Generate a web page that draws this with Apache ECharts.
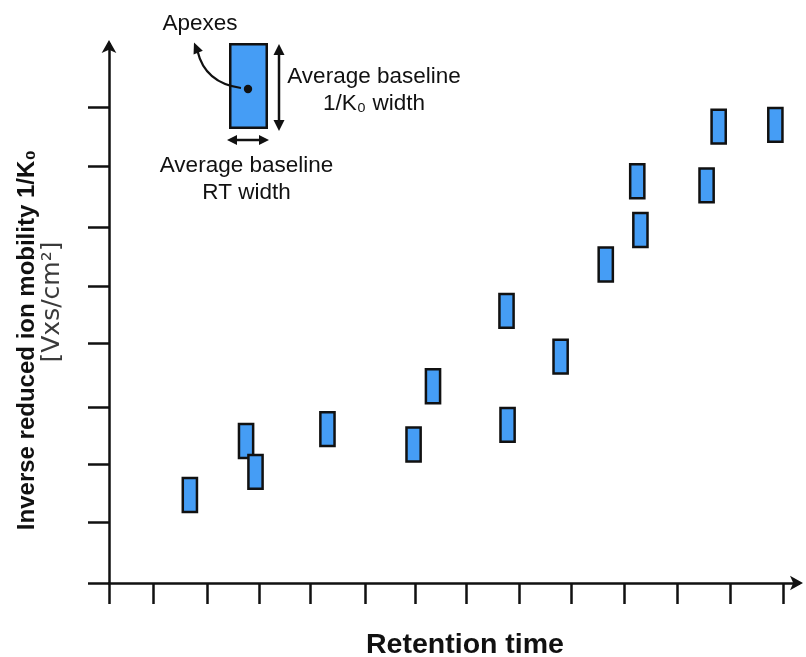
<!DOCTYPE html>
<html>
<head>
<meta charset="utf-8">
<script src="https://cdn.jsdelivr.net/npm/echarts@6/dist/echarts.min.js"></script>
<style>
  html, body { margin: 0; padding: 0; background: #fff; }
  #chart { width: 806px; height: 657px; }
</style>
</head>
<body>
<div id="chart"></div>
<script>
// Feature apex positions (retention time, inverse reduced ion mobility)
const rtValues = [1.70, 2.77, 2.95, 4.32, 5.96, 6.33, 7.73, 7.75, 8.76, 9.62, 10.28, 10.22, 11.54, 11.77, 12.85];
const imValues = [1.48, 2.39, 1.87, 2.59, 2.33, 3.31, 4.58, 2.66, 3.81, 5.36, 5.94, 6.76, 6.69, 7.68, 7.71];
// Average baseline widths (data units)
const rtWidth = 0.27;
const imWidth = 0.57;
// Tick positions (no labels)
const xTicks = [0.16, 1, 2.03, 3.02, 3.99, 5.04, 5.99, 6.96, 7.97, 8.96, 9.97, 10.99, 11.99, 13.0];
const yTicks = [0, 1.03, 2.0, 2.96, 4.04, 5.0, 5.98, 7.02, 8.0];

const FONT = '"Liberation Sans", Arial, Helvetica, sans-serif';
const INK = '#111';
const BLUE = '#459df5';

const data = rtValues.map((x, i) => [x, imValues[i]]);

const chart = echarts.init(document.getElementById('chart'));

function arrowHead(tip, dir, len, half) {
  const bx = tip[0] - dir[0] * len, by = tip[1] - dir[1] * len;
  const nx = -dir[1], ny = dir[0];
  return {
    type: 'polygon',
    shape: { points: [tip, [bx + nx * half, by + ny * half], [bx - nx * half, by - ny * half]] },
    style: { fill: INK }
  };
}

const axisCommon = {
  type: 'value',
  splitLine: { show: false },
  axisLabel: { show: false },
  axisLine: {
    show: true,
    symbol: ['none', 'arrow'],
    symbolSize: [11, 13],
    symbolOffset: [0, 4],
    lineStyle: { color: INK, width: 2.5 }
  },
  axisTick: {
    show: true,
    inside: false,
    length: 21,
    lineStyle: { color: INK, width: 2.5 }
  }
};

const option = {
  backgroundColor: '#fff',
  animation: false,
  grid: { left: 109, right: 7, top: 44, bottom: 74, containLabel: false },
  xAxis: Object.assign({}, axisCommon, {
    min: 0.16, max: 13.3,
    axisTick: Object.assign({}, axisCommon.axisTick, { customValues: xTicks })
  }),
  yAxis: Object.assign({}, axisCommon, {
    min: 0, max: 9.07,
    axisTick: Object.assign({}, axisCommon.axisTick, { customValues: yTicks })
  }),
  series: [{
    type: 'custom',
    data: data,
    renderItem: function (params, api) {
      const c = api.coord([api.value(0), api.value(1)]);
      const s = api.size([rtWidth, imWidth]);
      return {
        type: 'rect',
        shape: { x: c[0] - s[0] / 2, y: c[1] - s[1] / 2, width: s[0], height: s[1] },
        style: { fill: BLUE, stroke: INK, lineWidth: 2.5 }
      };
    }
  }],
  graphic: [
    {
      type: 'text', x: 465, y: 645,
      style: { text: 'Retention time', font: 'bold 28.5px ' + FONT, fill: INK, textAlign: 'center', textVerticalAlign: 'middle' }
    },
    {
      type: 'text', x: 27, y: 340, rotation: Math.PI / 2,
      style: { text: 'Inverse reduced ion mobility 1/K\u2080', font: 'bold 24px ' + FONT, fill: INK, textAlign: 'center', textVerticalAlign: 'middle' }
    },
    {
      type: 'text', x: 52, y: 302, rotation: Math.PI / 2,
      style: { text: '[Vxs/cm\u00b2]', font: '25px "DejaVu Sans", ' + FONT, fill: '#3a3a3a', textAlign: 'center', textVerticalAlign: 'middle' }
    },
    {
      type: 'rect', shape: { x: 230.25, y: 44.25, width: 36.5, height: 83.5 },
      style: { fill: BLUE, stroke: INK, lineWidth: 2.5 }
    },
    { type: 'circle', shape: { cx: 248, cy: 89, r: 4.2 }, style: { fill: INK } },
    {
      type: 'bezierCurve', shape: { x1: 241, y1: 88, cpx1: 205, cpy1: 83, x2: 197.5, y2: 51 },
      style: { fill: null, stroke: INK, lineWidth: 2.2 }
    },
    arrowHead([194, 42.5], [-0.38, -0.925], 11, 5),
    { type: 'line', shape: { x1: 279, y1: 52, x2: 279, y2: 123 }, style: { stroke: INK, lineWidth: 2.5 } },
    arrowHead([279, 44], [0, -1], 11, 5.5),
    arrowHead([279, 131], [0, 1], 11, 5.5),
    { type: 'line', shape: { x1: 234, y1: 140, x2: 262, y2: 140 }, style: { stroke: INK, lineWidth: 2.5 } },
    arrowHead([227, 140], [-1, 0], 10, 5),
    arrowHead([269, 140], [1, 0], 10, 5),
    {
      type: 'text', x: 200, y: 24,
      style: { text: 'Apexes', font: '22.5px ' + FONT, fill: INK, textAlign: 'center', textVerticalAlign: 'middle' }
    },
    {
      type: 'text', x: 374, y: 77,
      style: { text: 'Average baseline', font: '22.5px ' + FONT, fill: INK, textAlign: 'center', textVerticalAlign: 'middle' }
    },
    {
      type: 'text', x: 374, y: 104,
      style: { text: '1/K\u2080 width', font: '22.5px ' + FONT, fill: INK, textAlign: 'center', textVerticalAlign: 'middle' }
    },
    {
      type: 'text', x: 246.5, y: 166,
      style: { text: 'Average baseline', font: '22.5px ' + FONT, fill: INK, textAlign: 'center', textVerticalAlign: 'middle' }
    },
    {
      type: 'text', x: 246.5, y: 193,
      style: { text: 'RT width', font: '22.5px ' + FONT, fill: INK, textAlign: 'center', textVerticalAlign: 'middle' }
    }
  ]
};

chart.setOption(option);
</script>
</body>
</html>
